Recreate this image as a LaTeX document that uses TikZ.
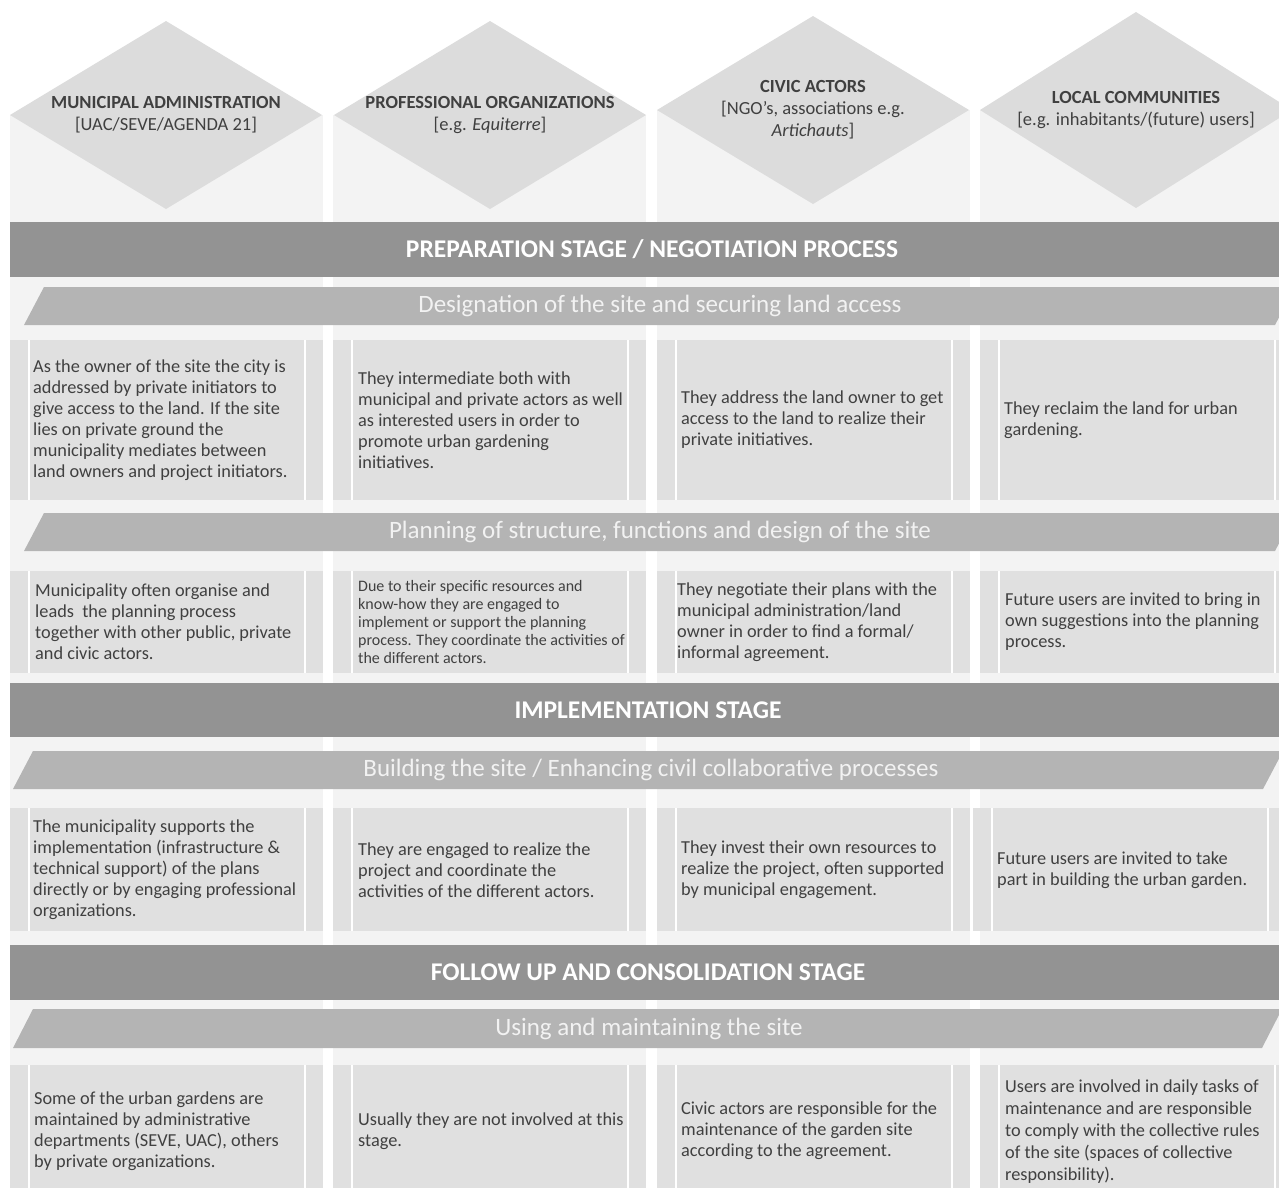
\documentclass[tikz,border=0pt]{standalone}
\usepackage{fontspec}
\setmainfont{Carlito}
\definecolor{colbg}{HTML}{F3F3F3}
\definecolor{diagray}{HTML}{DCDCDC}
\definecolor{boxgray}{HTML}{E0E0E0}
\definecolor{stagegray}{HTML}{939393}
\definecolor{stepgray}{HTML}{B4B4B4}
\definecolor{steptxt}{HTML}{F2F2F2}
\definecolor{txtgray}{HTML}{404040}
\tikzset{
  actor/.style={align=center, font=\fontsize{18.5}{22}\selectfont, text=txtgray},
  stagetext/.style={font=\fontsize{25.5}{28}\selectfont\bfseries, text=white},
  steptext/.style={font=\fontsize{25}{28}\selectfont, text=steptxt},
  roletext/.style={anchor=west, align=left, inner sep=0pt, font=\fontsize{18.3}{21}\selectfont, text=txtgray},
  sep/.style={draw=white, line width=1.2pt}
}
\begin{document}
\begin{tikzpicture}[x=1pt,y=-1pt]
    \useasboundingbox (0,0) rectangle (1279,1187);
    \clip (0,0) rectangle (1279,1187);
    % columns and actor diamonds
    \foreach \cx/\cy in {10/115,333/115,657/110,980/110}
      \fill[colbg] (\cx,\cy) rectangle ++(313,1100);
    \foreach \dx/\dy/\dh in {166/115/94,490/115/94,813/110/94,1136/110/98}
      \fill[diagray] (\dx-156,\dy) -- (\dx,\dy-\dh) -- (\dx+156,\dy) -- (\dx,\dy+\dh) -- cycle;
    \node[actor] (admin) at (166,115) {\textbf{MUNICIPAL ADMINISTRATION}\\{[}UAC/SEVE/AGENDA 21{]}};
    \node[actor] (prof)  at (490,115) {\textbf{PROFESSIONAL ORGANIZATIONS}\\{[}e.g. \textit{Equiterre}{]}};
    \node[actor] (civic) at (813,110) {\textbf{CIVIC ACTORS}\\{[}NGO’s, associations e.g.\\\textit{Artichauts}{]}};
    \node[actor] (local) at (1136,110) {\textbf{LOCAL COMMUNITIES}\\{[}e.g. inhabitants/(future) users{]}};
    % stages
    \foreach \ya/\yb in {222/277,683/737,945/1000}
      \fill[stagegray] (10,\ya) rectangle (1290,\yb);
    \node[stagetext] (prep) at (652,249.5) {PREPARATION STAGE / NEGOTIATION PROCESS};
    \node[stagetext] (impl) at (648,710) {IMPLEMENTATION STAGE};
    \node[stagetext] (foll) at (648,972.5) {FOLLOW UP AND CONSOLIDATION STAGE};
    % steps
    \foreach \ya/\yb/\xl/\xr in {287/325/24/1275,513/551/24/1275,751/789/13/1263,1009/1048/13/1262}
      \fill[stepgray] (\xl,\yb) -- (\xl+20,\ya) -- (\xr+20,\ya) -- (\xr,\yb) -- cycle;
    \node[steptext] (desig) at (660,306) {Designation of the site and securing land access};
    \node[steptext] (plan)  at (660,532) {Planning of structure, functions and design of the site};
    \node[steptext] (build) at (651,770) {Building the site / Enhancing civil collaborative processes};
    \node[steptext] (use)   at (649,1028.5) {Using and maintaining the site};
    % role boxes
    \foreach \bx/\ya/\yb in {10/340/500,333/340/500,657/340/500,980/340/500,
                              10/571/673,333/571/673,657/571/673,980/571/673,
                              10/808/931,333/808/931,657/808/931,973/808/931,
                              10/1065/1198,333/1065/1198,657/1065/1198,980/1065/1198} {
      \fill[boxgray] (\bx,\ya) rectangle (\bx+313,\yb);
      \draw[sep] (\bx+19,\ya) -- (\bx+19,\yb) (\bx+295,\ya) -- (\bx+295,\yb);
    }
    \node[roletext] (r1a) at (33,420) {As the owner of the site the city is\\addressed by private initiators to\\give access to the land. If the site\\lies on private ground the\\municipality mediates between\\land owners and project initiators.};
    \node[roletext] (r1b) at (358,420) {They intermediate both with\\municipal and private actors as well\\as interested users in order to\\promote urban gardening\\initiatives.};
    \node[roletext] (r1c) at (681,420) {They address the land owner to get\\access to the land to realize their\\private initiatives.};
    \node[roletext] (r1d) at (1004,420) {They reclaim the land for urban\\gardening.};
    \node[roletext] (r2a) at (35,622) {Municipality often organise and\\leads\ \ the planning process\\together with other public, private\\and civic actors.};
    \node[roletext, font=\fontsize{16}{18}\selectfont] (r2b) at (358,622) {Due to their specific resources and\\know-how they are engaged to\\implement or support the planning\\process. They coordinate the activities of\\the different actors.};
    \node[roletext] (r2c) at (677,622) {They negotiate their plans with the\\municipal administration/land\\owner in order to find a formal/\\informal agreement.};
    \node[roletext] (r2d) at (1005,622) {Future users are invited to bring in\\own suggestions into the planning\\process.};
    \node[roletext] (r3a) at (33,870) {The municipality supports the\\implementation (infrastructure \&\\technical support) of the plans\\directly or by engaging professional\\organizations.};
    \node[roletext] (r3b) at (358,870) {They are engaged to realize the\\project and coordinate the\\activities of the different actors.};
    \node[roletext] (r3c) at (681,870) {They invest their own resources to\\realize the project, often supported\\by municipal engagement.};
    \node[roletext] (r3d) at (997,870) {Future users are invited to take\\part in building the urban garden.};
    \node[roletext] (r4a) at (34,1131) {Some of the urban gardens are\\maintained by administrative\\departments (SEVE, UAC), others\\by private organizations.};
    \node[roletext] (r4b) at (358,1131) {Usually they are not involved at this\\stage.};
    \node[roletext] (r4c) at (681,1131) {Civic actors are responsible for the\\maintenance of the garden site\\according to the agreement.};
    \node[roletext, font=\fontsize{18.3}{22}\selectfont] (r4d) at (1005,1132) {Users are involved in daily tasks of\\maintenance and are responsible\\to comply with the collective rules\\of the site (spaces of collective\\responsibility).};
\end{tikzpicture}
\end{document}
